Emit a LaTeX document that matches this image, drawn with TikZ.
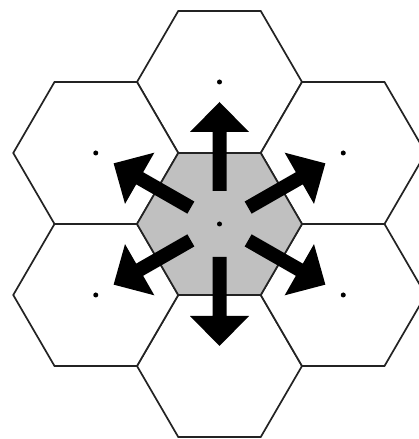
\documentclass[tikz,border=0pt]{standalone}
\usetikzlibrary{calc}
\definecolor{edgecol}{RGB}{35,35,35}
\definecolor{cellgray}{RGB}{192,192,192}
\tikzset{
  hexline/.style={draw=edgecol, line width=1.7pt, line join=miter},
  pics/hexcell/.style={code={
    \path[hexline,#1] (-82.5,0) -- (-41.25,71) -- (41.25,71) -- (82.5,0)
      -- (41.25,-71) -- (-41.25,-71) -- cycle;}},
  pics/bigarrow/.style={code={
    \fill[black] (33,-7) -- (92,-7) -- (92,-29.5) -- (122,0) -- (92,29.5)
      -- (92,7) -- (33,7) -- cycle;}},
  centerdot/.style={circle, fill=black, inner sep=0pt, minimum size=5pt}
}
\begin{document}
\begin{tikzpicture}[x=1pt,y=1pt]
\useasboundingbox (0,0) rectangle (419,439);
\clip (0,0) rectangle (419,439);
\fill[white] (0,0) rectangle (419,439);
% cell centres
\coordinate (C)  at (219.5,215);
\coordinate (N)  at (219.5,357);
\coordinate (S)  at (219.5,73);
\coordinate (NW) at (95.75,286);
\coordinate (SW) at (95.75,144);
\coordinate (NE) at (343.25,286);
\coordinate (SE) at (343.25,144);
% surrounding cells
\foreach \c in {N,S,NW,SW,NE,SE}
  \pic at (\c) {hexcell={fill=white}};
% central cell
\pic at (C) {hexcell={fill=cellgray}};
% arrows
\foreach \a in {90,-90,29.8,150.2,-150.2,-29.8}
  \pic[rotate=\a] at (C) {bigarrow};
% centre dots
\node[centerdot] (dC)  at (C)  {};
\node[centerdot] (dN)  at (N)  {};
\node[centerdot] (dNW) at (NW) {};
\node[centerdot] (dSW) at (SW) {};
\node[centerdot] (dNE) at (NE) {};
\node[centerdot] (dSE) at (SE) {};
\end{tikzpicture}
\end{document}
